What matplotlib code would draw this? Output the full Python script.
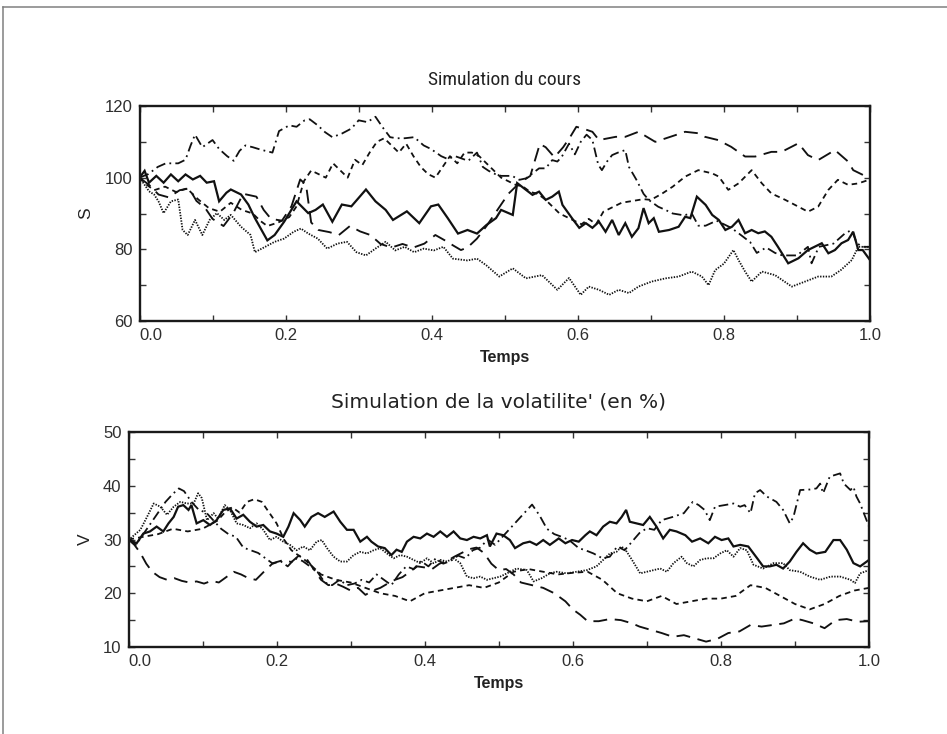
import matplotlib
matplotlib.use("Agg")
import matplotlib.pyplot as plt
from matplotlib import font_manager
from matplotlib.lines import Line2D

# ---------------- data ----------------
# Stock price simulations S(t): (time, value)
s_solid = [(0,100),(0.007,101.9),(0.013,98.6),(0.023,100.5),(0.033,98.6),(0.043,100.9),(0.053,99),(0.063,100.9),
           (0.073,99.5),(0.083,100.5),(0.092,98.6),(0.102,99),(0.109,93.4),(0.119,95.8),(0.125,96.7),(0.139,95.3),
           (0.149,92.5),(0.158,88.7),(0.175,82.5),(0.185,84),(0.198,87.7),(0.215,93.4),(0.231,90.1),(0.241,91),
           (0.251,92.5),(0.264,87.7),(0.277,92.5),(0.29,92),(0.31,96.7),(0.323,93.4),(0.337,91),(0.347,88.2),
           (0.366,90.6),(0.383,87.3),(0.399,92),(0.409,92.5),(0.422,88.7),(0.436,84.4),(0.449,85.4),(0.462,84.4),
           (0.475,86.8),(0.488,88.7),(0.495,91),(0.511,89.6),(0.517,98.5),(0.529,96.6),(0.538,95.2),(0.547,96.1),
           (0.556,93.8),(0.565,94.7),(0.574,96.1),(0.579,92.4),(0.592,88.7),(0.602,86),(0.611,87.3),(0.62,86),
           (0.629,87.7),(0.638,84.9),(0.647,88.2),(0.656,84),(0.665,87.3),(0.674,83.5),(0.683,85.9),(0.69,91.5),
           (0.697,87.3),(0.704,88.7),(0.711,84.9),(0.725,85.4),(0.738,86.3),(0.747,89.1),(0.754,88.7),(0.763,94.7),
           (0.775,92.4),(0.784,89.6),(0.793,88.2),(0.802,85.4),(0.811,86.3),(0.82,88.2),(0.829,84.5),(0.838,85.4),
           (0.847,84.5),(0.856,85),(0.865,83.5),(0.874,80.7),(0.888,76.1),(0.902,77.5),(0.915,79.8),(0.924,80.7),
           (0.934,81.7),(0.943,78.9),(0.952,79.8),(0.961,81.7),(0.97,82.6),(0.977,84.9),(0.984,79.8),(0.99,79.8),
           (1.0,77)]
s_dotted = [(0,100),(0.007,98),(0.013,96.2),(0.02,95.3),(0.026,93.4),(0.033,90.1),(0.043,93.4),(0.053,93.9),
            (0.059,85.4),(0.066,84),(0.076,88.2),(0.086,84),(0.096,88.2),(0.106,90.1),(0.116,88.2),(0.125,89.6),
            (0.139,86.3),(0.152,84),(0.158,79.2),(0.172,80.7),(0.185,82.1),(0.198,83),(0.211,84.9),(0.221,85.8),
            (0.231,84.4),(0.244,83),(0.257,80.2),(0.271,81.6),(0.284,82.1),(0.297,79.2),(0.31,78.3),(0.323,80.2),
            (0.337,82.1),(0.35,79.7),(0.363,80.7),(0.376,79.2),(0.389,80.2),(0.403,79.7),(0.416,80.7),(0.429,77.4),
            (0.449,76.9),(0.462,77.4),(0.475,75.5),(0.4925,72.4),(0.511,74.7),(0.529,71.9),(0.551,72.8),(0.572,68.7),
            (0.588,72),(0.604,67.3),(0.615,69.6),(0.629,68.7),(0.643,67.3),(0.656,68.7),(0.67,67.8),(0.683,69.6),
            (0.701,71),(0.72,71.9),(0.738,72.4),(0.756,73.8),(0.77,72.4),(0.779,70),(0.788,74.2),(0.80,76),
            (0.813,79.8),(0.82,77),(0.829,73.8),(0.838,71),(0.852,73.8),(0.87,72.8),(0.893,69.6),(0.911,71),
            (0.929,72.4),(0.947,72.4),(0.96,74.2),(0.975,77),(0.984,80.7),(1.0,80.7)]
s_dashdot = [(0,100),(0.012,101),(0.025,103),(0.036,104),(0.053,104),(0.063,105),(0.07,109),(0.076,112),(0.086,108.5),
             (0.1,110.5),(0.109,108),(0.12,106),(0.129,104.7),(0.137,107.5),(0.145,109),(0.155,108.5),(0.163,108),
             (0.172,107.5),(0.182,107),(0.191,113),(0.205,114.6),(0.215,114.2),(0.226,116),(0.233,116.3),(0.244,114.6),
             (0.254,112.7),(0.264,111.3),(0.277,112.3),(0.29,113.7),(0.3,116),(0.312,115.5),(0.323,117),(0.333,114),
             (0.343,111.3),(0.352,111),(0.363,111),(0.376,111.3),(0.389,109),(0.399,108),(0.413,106),(0.422,105.2),
             (0.432,106),(0.45,104.7),(0.462,107),(0.47,103),(0.478,101.9),(0.487,101),(0.495,100.5),(0.51,100.5),
             (0.52,99.4),(0.529,99.8),(0.547,102.6),(0.556,102.6),(0.565,104.9),(0.572,104.5),(0.578,105.8),
             (0.588,109.5),(0.596,106.5),(0.604,110),(0.612,112),(0.62,110.5),(0.628,103.6),(0.633,102.1),(0.64,104.5),
             (0.647,106.3),(0.655,107),(0.665,107.7),(0.67,103),(0.68,99.5),(0.69,95.5),(0.697,93.8),(0.71,91.9),
             (0.72,91),(0.73,90),(0.745,89.5),(0.756,90),(0.765,86.6),(0.775,86.6),(0.79,88),(0.81,86),(0.82,84.5),
             (0.836,82),(0.845,79),(0.858,80.5),(0.87,79),(0.88,78.3),(0.893,78.3),(0.9,78.3),(0.915,80.7),(0.92,76.1),
             (0.93,80.7),(0.95,81.6),(0.966,84.5),(0.975,85.4),(0.982,81.7),(0.99,80.7),(1.0,80.7)]
s_longdash = [(0,100),(0.013,98),(0.026,95.3),(0.04,94.5),(0.055,96.5),(0.068,97),(0.078,93.5),(0.09,91.5),(0.1,88.5),
              (0.115,86.5),(0.128,90),(0.142,95.5),(0.16,94.7),(0.17,91),(0.18,88.5),(0.195,88),(0.208,92),(0.22,99.5),
              (0.228,98),(0.235,87.5),(0.245,85.4),(0.26,84.8),(0.273,84),(0.288,86.5),(0.302,85),(0.316,84),(0.33,81.5),
              (0.345,80.5),(0.36,81.5),(0.375,80.5),(0.39,81.6),(0.405,84),(0.418,82.5),(0.43,81),(0.44,79.8),
              (0.449,80.5),(0.462,83),(0.475,86.5),(0.49,91),(0.505,95.5),(0.52,98.5),(0.535,100.5),(0.548,109.4),
              (0.556,108.5),(0.568,105.7),(0.58,108.5),(0.59,111.5),(0.598,114.2),(0.61,113.5),(0.62,112.8),
              (0.629,110.5),(0.652,111.4),(0.665,111.4),(0.683,112.8),(0.706,110),(0.734,111.9),(0.747,112.8),
              (0.765,112.4),(0.774,111.4),(0.792,110.5),(0.81,108.6),(0.829,105.9),(0.843,105.9),(0.865,107.2),
              (0.879,107.2),(0.902,109.6),(0.915,106.3),(0.929,104.9),(0.952,107.7),(0.97,104.5),(0.977,102.1),
              (1.0,99.8)]
s_dashed = [(0,100),(0.01,98),(0.02,96.5),(0.035,97.5),(0.05,96),(0.065,97),(0.08,94),(0.095,91.5),(0.11,90.5),
            (0.125,93),(0.14,91),(0.155,90),(0.165,88),(0.175,86.5),(0.19,87.5),(0.205,89),(0.215,92),(0.225,99),
            (0.235,102),(0.245,101),(0.255,100),(0.265,104),(0.275,102),(0.285,100),(0.295,105),(0.305,103.5),
            (0.315,107),(0.325,110),(0.335,111),(0.345,109),(0.355,107),(0.365,109.5),(0.375,106),(0.385,103),
            (0.395,101),(0.405,100),(0.415,103),(0.425,106),(0.435,104),(0.445,107),(0.455,107),(0.465,106),
            (0.475,104),(0.485,102),(0.495,100),(0.505,99),(0.515,98),(0.525,97.5),(0.535,96),(0.545,95.5),
            (0.555,94),(0.565,92),(0.575,90),(0.585,89),(0.595,88),(0.605,87),(0.615,88.5),(0.625,87),(0.635,90.5),
            (0.645,91.5),(0.66,93),(0.675,93.5),(0.69,94),(0.7,93.8),(0.715,95.5),(0.73,97.5),(0.747,100.3),
            (0.765,102.1),(0.784,101.2),(0.793,100.3),(0.806,96.6),(0.82,98.4),(0.838,102.1),(0.852,98.4),
            (0.865,95.6),(0.884,93.8),(0.902,91.9),(0.915,90.5),(0.929,91.9),(0.943,96.6),(0.956,99.4),(0.97,98),
            (0.984,98.4),(1.0,99.5)]

# Volatility simulations V(t) in %: (time, value)
v_solid = [(0,30),(0.011,29.3),(0.02,31.1),(0.029,31.5),(0.038,32.4),(0.047,31.5),(0.054,33),(0.061,34.2),(0.067,36.1),
           (0.074,36.4),(0.081,35.5),(0.085,36.4),(0.092,33),(0.101,33.6),(0.11,32.7),(0.119,33.6),(0.128,35.5),
           (0.137,35.8),(0.146,33.9),(0.155,34.6),(0.164,33.3),(0.173,32.4),(0.182,32.7),(0.191,31.5),(0.2,31.1),
           (0.209,30.5),(0.216,32.4),(0.223,34.9),(0.232,33.6),(0.238,32.4),(0.247,34.2),(0.256,34.9),(0.265,34.2),
           (0.277,35.2),(0.286,33.3),(0.295,31.8),(0.304,31.8),(0.313,29.6),(0.322,30.5),(0.328,29.6),(0.337,28.7),
           (0.346,28.4),(0.355,27.1),(0.362,28.1),(0.369,27.7),(0.376,29.6),(0.385,30.5),(0.394,30.2),(0.403,31.1),
           (0.412,30.5),(0.421,31.5),(0.43,30.5),(0.439,31.5),(0.448,30.2),(0.457,29.9),(0.466,30.5),(0.475,30.2),
           (0.484,30.8),(0.488,28.7),(0.497,31.1),(0.506,30.8),(0.515,29.9),(0.522,28.4),(0.533,29.3),(0.542,29.6),
           (0.551,29),(0.56,29.9),(0.569,29),(0.581,30.2),(0.59,29.3),(0.599,29.9),(0.608,29.6),(0.617,30.8),
           (0.623,31.5),(0.632,30.8),(0.641,32.4),(0.65,33.3),(0.659,33),(0.666,34.2),(0.672,35.5),(0.677,33.3),
           (0.686,33),(0.695,32.7),(0.704,34.2),(0.713,32.4),(0.722,30.2),(0.731,31.8),(0.74,31.5),(0.752,30.8),
           (0.761,29.6),(0.772,30.2),(0.783,29.3),(0.792,30.5),(0.801,29.9),(0.81,30.2),(0.817,28.7),(0.826,29),
           (0.837,28.7),(0.849,26.5),(0.857,25),(0.866,25),(0.875,25.3),(0.884,24.6),(0.893,25.9),(0.902,27.7),
           (0.911,29.3),(0.92,28.1),(0.929,27.4),(0.941,27.7),(0.952,29.9),(0.961,29.9),(0.97,28.1),(0.979,25.6),
           (0.988,25),(1.0,26.2)]
v_dotted = [(0,29.9),(0.016,31.8),(0.025,34.2),(0.034,36.7),(0.043,36.1),(0.052,34.6),(0.061,36.1),(0.07,37),
            (0.079,36.7),(0.088,36.7),(0.094,38.6),(0.099,37.7),(0.106,33.6),(0.115,34.9),(0.121,33.9),(0.13,36.4),
            (0.137,35.5),(0.146,33),(0.155,32.7),(0.164,32.1),(0.173,33),(0.182,31.8),(0.191,29.9),(0.2,30.5),
            (0.209,29.6),(0.218,29),(0.227,28),(0.236,28.7),(0.245,28),(0.254,29.6),(0.261,29.9),(0.268,28.4),
            (0.277,26.8),(0.286,25.9),(0.295,25.9),(0.304,27.1),(0.313,27.7),(0.322,27.4),(0.331,28),(0.34,28.4),
            (0.349,27.4),(0.358,26.5),(0.367,27.1),(0.376,26.8),(0.385,26.2),(0.394,25.6),(0.403,26.5),(0.412,25.6),
            (0.421,26.2),(0.43,25.9),(0.439,26.5),(0.448,25.6),(0.457,23.1),(0.466,22.8),(0.475,23.1),(0.484,22.5),
            (0.493,22.8),(0.502,23.1),(0.511,23.7),(0.524,24.6),(0.538,24.3),(0.547,22.2),(0.558,22.8),(0.569,23.7),
            (0.578,24),(0.592,23.7),(0.605,24),(0.619,24.3),(0.632,25),(0.641,26.2),(0.65,27.4),(0.659,27.7),
            (0.666,28.7),(0.673,27.7),(0.68,26.2),(0.691,23.7),(0.7,24),(0.709,24.3),(0.718,24.6),(0.727,24),
            (0.736,25.6),(0.747,26.8),(0.754,25.6),(0.763,25),(0.772,26.2),(0.781,26.5),(0.79,26.5),(0.799,27.4),
            (0.808,28),(0.817,26.8),(0.826,28.4),(0.835,28),(0.844,25.3),(0.857,24.6),(0.871,25.6),(0.884,25.6),
            (0.893,24.3),(0.907,24),(0.92,23.1),(0.934,22.5),(0.948,23.1),(0.961,23.1),(0.975,22.5),(0.981,21.9),
            (0.988,23.7),(1.0,24.3)]
v_dashdot = [(0,30),(0.01,29),(0.02,31),(0.03,33),(0.04,35),(0.05,37),(0.06,38.5),(0.068,39.5),(0.075,39),(0.085,37),
             (0.095,35.5),(0.105,35),(0.115,33.5),(0.125,32),(0.135,31),(0.145,30.5),(0.155,28.5),(0.165,28),
             (0.175,27.5),(0.185,26.5),(0.195,25.5),(0.205,26),(0.215,25),(0.225,26.5),(0.235,26),(0.245,25),
             (0.255,24),(0.265,22),(0.275,21.5),(0.285,22.5),(0.295,21.5),(0.305,21.8),(0.315,22.5),(0.325,22),
             (0.335,23.5),(0.345,22.5),(0.355,21.5),(0.365,23.5),(0.375,25),(0.385,24.5),(0.395,26),(0.405,25),
             (0.415,26.5),(0.425,25.5),(0.435,26),(0.445,27),(0.455,26.5),(0.465,28),(0.475,28.5),(0.485,30),
             (0.495,29),(0.505,30.5),(0.515,32),(0.525,33.5),(0.535,35),(0.545,36.5),(0.555,34.5),(0.565,32),
             (0.575,31),(0.585,30.5),(0.595,29.9),(0.608,28.4),(0.617,28),(0.628,27.4),(0.64,26.5),(0.65,26.8),
             (0.66,28.7),(0.67,28),(0.68,29.6),(0.69,31.2),(0.7,32.1),(0.71,31.8),(0.72,33.6),(0.735,34.2),(0.75,34.9),
             (0.762,37),(0.77,36.4),(0.778,35.5),(0.785,33.6),(0.792,36.1),(0.805,36.4),(0.817,36.7),(0.826,36.1),
             (0.832,36.4),(0.84,34.9),(0.846,38.6),(0.853,39.2),(0.862,38),(0.875,37),(0.884,35.5),(0.893,33),
             (0.898,34.2),(0.907,39.2),(0.92,39.3),(0.929,39.5),(0.934,40.4),(0.938,38.6),(0.947,41.7),(0.961,42.3),
             (0.966,40.4),(0.975,39.2),(0.979,39.8),(0.983,38),(0.988,36.7),(1.0,32.4)]
v_longdash = [(0,30),(0.008,29),(0.016,27.5),(0.024,25.5),(0.032,24),(0.042,23),(0.052,22.5),(0.062,22.8),(0.072,22.3),
              (0.082,22),(0.092,22.2),(0.102,21.8),(0.112,22.3),(0.122,22),(0.132,23),(0.142,24),(0.152,23.5),
              (0.162,22.8),(0.172,22.5),(0.185,24.3),(0.195,25.6),(0.21,26.2),(0.22,25.8),(0.23,27),(0.24,26.5),
              (0.25,24.5),(0.26,22.5),(0.27,21.5),(0.28,21.8),(0.29,21.2),(0.3,20.5),(0.31,21),(0.32,19.7),(0.33,20.5),
              (0.34,21),(0.35,21.8),(0.36,22.5),(0.37,23),(0.38,24),(0.39,25),(0.4,24.8),(0.41,24.5),(0.42,25.5),
              (0.43,26),(0.44,26.8),(0.45,27.5),(0.46,28.2),(0.47,28.5),(0.48,27.5),(0.49,25.5),(0.5,24.3),(0.51,24.5),
              (0.52,23.5),(0.53,22),(0.545,21.5),(0.56,21),(0.575,20),(0.59,18.5),(0.6,17),(0.61,16),(0.62,14.8),
              (0.635,14.8),(0.65,15.2),(0.665,15),(0.68,14.4),(0.69,13.8),(0.705,13.2),(0.72,12.6),(0.735,11.9),
              (0.75,12.2),(0.765,11.6),(0.78,11),(0.795,11.5),(0.81,12.6),(0.825,12.9),(0.84,14.1),(0.855,13.8),
              (0.87,14.1),(0.885,14.4),(0.9,15.3),(0.91,15),(0.925,14.4),(0.94,13.5),(0.955,15),(0.97,15.2),
              (0.985,14.7),(1.0,14.8)]
v_dashed = [(0,30),(0.02,30.5),(0.04,31),(0.06,32),(0.08,31.5),(0.1,32),(0.12,33.5),(0.13,35),(0.14,36),(0.15,35),
            (0.16,37),(0.17,37.5),(0.18,37),(0.19,35),(0.2,33),(0.21,30),(0.22,28),(0.24,26),(0.26,23.5),(0.27,23),
            (0.28,22.5),(0.3,22),(0.32,21),(0.34,20),(0.36,19.5),(0.38,18.5),(0.4,20),(0.42,20.5),(0.44,21),
            (0.46,21.5),(0.48,21),(0.5,22),(0.52,24),(0.54,24.5),(0.56,24),(0.58,23.5),(0.6,23.8),(0.62,24),
            (0.64,22.5),(0.66,20),(0.68,19),(0.70,18.5),(0.72,19.5),(0.74,18),(0.76,18.5),(0.78,19),(0.8,19),
            (0.82,19.5),(0.84,21.5),(0.86,21),(0.88,19.5),(0.9,18),(0.92,17),(0.94,18),(0.96,19.5),(0.98,20.5),
            (1.0,21)]

x_ticks = [0.0, 0.2, 0.4, 0.6, 0.8, 1.0]
x_ticklabels = ["0.0", "0.2", "0.4", "0.6", "0.8", "1.0"]
s_yticks = [60, 80, 100, 120]
v_yticks = [10, 20, 30, 40, 50]

# ---------------- style ----------------
W, H = 947, 734
LINE_C = "#111111"
TXT_C = "#2e2e2e"

def pick_font(cands, default):
    for c in cands:
        try:
            font_manager.findfont(font_manager.FontProperties(family=c), fallback_to_default=False)
            return c
        except Exception:
            pass
    return default

narrow = pick_font(["Liberation Sans Narrow", "DejaVu Sans Condensed", "Roboto Condensed"], None)
plt.rcParams["font.family"] = ["Liberation Sans", "DejaVu Sans"]
plt.rcParams["lines.scale_dashes"] = False

styles = {
    "solid":    dict(ls="-", lw=1.6),
    "dotted":   dict(ls=(0, (1.0, 1.0)), lw=1.3),
    "dashed":   dict(ls=(0, (4.0, 3.0)), lw=1.3),
    "dashdot":  dict(ls=(0, (7.0, 3.0, 1.3, 3.0)), lw=1.3),
    "longdash": dict(ls=(0, (10.0, 5.5)), lw=1.35),
}

fig = plt.figure(figsize=(W / 100, H / 100), dpi=100)

def px_axes(left, right, top, bottom):
    return fig.add_axes([left / W, 1 - bottom / H, (right - left) / W, (bottom - top) / H])

ax1 = px_axes(139.5, 870, 106, 321)
ax2 = px_axes(128.5, 869, 432, 647)

def draw(ax, series, ylim, yticks, yminor, ylabel, ylabel_x):
    for name, data in series:
        t = [p[0] for p in data]
        v = [p[1] for p in data]
        ax.plot(t, v, color=LINE_C, solid_joinstyle="miter", dash_capstyle="butt", **styles[name])
    ax.set_xlim(0, 1)
    ax.set_ylim(*ylim)
    ax.set_xticks(x_ticks)
    ax.set_xticklabels(x_ticklabels)
    ax.set_xticks([0.1, 0.3, 0.5, 0.7, 0.9], minor=True)
    ax.set_yticks(yticks)
    ax.set_yticklabels([str(y) for y in yticks])
    ax.set_yticks(yminor, minor=True)
    ax.tick_params(which="both", direction="in", top=True, right=True, length=4.5, width=1.0,
                   color="#333333", labelsize=12, labelcolor=TXT_C)
    ax.tick_params(axis="x", which="major", pad=5)
    ax.tick_params(axis="y", which="major", pad=5)
    lbls = ax.get_xticklabels()
    lbls[0].set_horizontalalignment("left")
    for sp in ax.spines.values():
        sp.set_linewidth(1.7)
        sp.set_color("#1a1a1a")
    ax.set_xlabel("Temps", fontsize=11.5, fontweight="bold", color="#222222")
    ax.xaxis.set_label_coords(0.5, -0.135)
    ax.set_ylabel(ylabel, fontsize=12.5, color="#222222")
    ax.yaxis.set_label_coords(ylabel_x, 0.5)

draw(ax1, [("dotted", s_dotted), ("dashed", s_dashed), ("longdash", s_longdash),
           ("dashdot", s_dashdot), ("solid", s_solid)],
     (60, 120), s_yticks, [70, 90, 110], "S", (93 - 139.5) / 730.5)
draw(ax2, [("dotted", v_dotted), ("dashed", v_dashed), ("longdash", v_longdash),
           ("dashdot", v_dashdot), ("solid", v_solid)],
     (10, 50), v_yticks, [15, 25, 35, 45], "V", (93 - 128.5) / 740.5)

if narrow:
    fig.text(504.75 / W, 1 - 80 / H, "Simulation du cours", ha="center", va="center",
             fontsize=14, family=narrow, color="#222222")
else:
    fig.text(504.75 / W, 1 - 80 / H, "Simulation du cours", ha="center", va="center",
             fontsize=10, family="DejaVu Sans", color="#222222")
fig.text(498.75 / W, 1 - 402 / H, "Simulation de la volatilite' (en %)", ha="center", va="center",
         fontsize=14.5, family="DejaVu Sans", color="#222222")

# thin page frame (top and left edges)
fig.add_artist(Line2D([3 / W, 3 / W], [0, 1 - 7 / H], transform=fig.transFigure, color="#808080", lw=1.1))
fig.add_artist(Line2D([3 / W, 1], [1 - 7 / H, 1 - 7 / H], transform=fig.transFigure, color="#808080", lw=1.1))

fig.savefig("out.png", dpi=100, facecolor="white")
